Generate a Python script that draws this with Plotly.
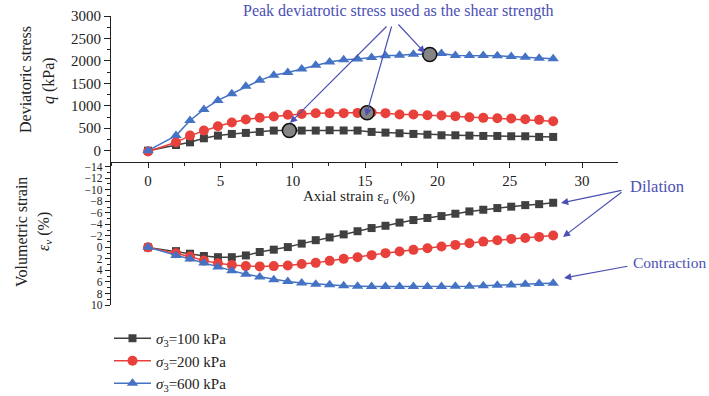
import plotly.graph_objects as go

# ---------------- data ----------------
strain = [0, 1.93, 2.90, 3.86, 4.83, 5.79, 6.76, 7.72, 8.69, 9.66, 10.62, 11.59, 12.55,
          13.52, 14.48, 15.45, 16.41, 17.38, 18.34, 19.31, 20.28, 21.24, 22.21, 23.17,
          24.14, 25.10, 26.07, 27.03, 28.00]

q_100 = [0, 127, 186, 276, 336, 373, 396, 418, 448, 448, 448, 448, 455, 450, 448, 418,
         403, 388, 373, 358, 343, 343, 336, 328, 328, 321, 321, 306, 306]
q_200 = [-20, 186, 336, 448, 544, 627, 694, 732, 761, 799, 817, 834, 836, 836, 842, 851,
         836, 806, 806, 791, 784, 769, 746, 731, 724, 717, 702, 687, 657]
q_600 = [0, 336, 672, 918, 1120, 1270, 1433, 1567, 1680, 1740, 1820, 1903, 1975, 2025,
         2040, 2075, 2112, 2127, 2150, 2150, 2165, 2120, 2120, 2120, 2112, 2098, 2082,
         2060, 2045]

ev_100 = [0, 0.65, 1.1, 1.5, 1.7, 1.7, 1.4, 0.8, 0.4, -0.05, -0.65, -1.25, -1.73, -2.25,
          -2.8, -3.35, -3.75, -4.3, -4.74, -5.1, -5.43, -5.84, -6.24, -6.53, -6.82, -7.06,
          -7.33, -7.5, -7.74]
ev_200 = [0, 1.0, 1.6, 2.3, 2.75, 3.05, 3.25, 3.3, 3.25, 3.15, 2.9, 2.69, 2.34, 1.99, 1.7,
          1.35, 1.0, 0.73, 0.43, 0.14, -0.14, -0.43, -0.72, -1.0, -1.24, -1.47, -1.64,
          -1.82, -2.05]
ev_600 = [0, 1.39, 2.0, 2.7, 3.4, 4.04, 4.68, 5.13, 5.6, 5.94, 6.17, 6.38, 6.5, 6.64, 6.76,
          6.81, 6.81, 6.81, 6.81, 6.81, 6.81, 6.76, 6.76, 6.64, 6.59, 6.53, 6.41, 6.29, 6.24]

peak_strain = [9.77, 15.14, 19.47]
peak_q = [448, 844, 2143]

series_names = ["<i>σ</i><sub>3</sub>=100 kPa", "<i>σ</i><sub>3</sub>=200 kPa",
                "<i>σ</i><sub>3</sub>=600 kPa"]

# ---------------- styling ----------------
FONT = "Liberation Serif"
colors = ["#404040", "#e8403a", "#4472c4"]
symbols = ["square", "circle", "triangle-up"]
msizes = [8, 10, 10]
ANN = "#4b50b4"

W, H = 709, 396
L, R, T, B = 111, 91, 16, 91
PW, PH = W - L - R, H - T - B
split = (305 - 161.5) / PH


def px(xp):
    return (xp - L) / PW


def py(yp):
    return (H - B - yp) / PH


fig = go.Figure()

qs = [q_100, q_200, q_600]
evs = [ev_100, ev_200, ev_600]
for i in range(3):
    fig.add_trace(go.Scatter(
        x=strain, y=qs[i], mode="lines+markers", name=series_names[i],
        line=dict(color=colors[i], width=1.5),
        marker=dict(symbol=symbols[i], size=msizes[i], color=colors[i]),
        xaxis="x", yaxis="y", legendgroup=str(i), cliponaxis=False))
for i in range(3):
    fig.add_trace(go.Scatter(
        x=strain, y=evs[i], mode="lines+markers", name=series_names[i],
        line=dict(color=colors[i], width=1.5),
        marker=dict(symbol=symbols[i], size=msizes[i], color=colors[i]),
        xaxis="x", yaxis="y2", legendgroup=str(i), showlegend=False, cliponaxis=False))

fig.add_trace(go.Scatter(
    x=peak_strain, y=peak_q, mode="markers", showlegend=False,
    marker=dict(symbol="circle", size=14, color="#858585",
                line=dict(color="#111111", width=1.5)),
    xaxis="x", yaxis="y", cliponaxis=False))

axis_common = dict(showgrid=False, zeroline=False, showline=True, linecolor="#222",
                   linewidth=1.2, ticks="outside", tickcolor="#222", tickwidth=1.2)

fig.update_layout(
    width=W, height=H,
    margin=dict(l=L, r=R, t=T, b=B, autoexpand=False),
    paper_bgcolor="white", plot_bgcolor="white",
    font=dict(family=FONT, size=15, color="#222"),
    xaxis=dict(**axis_common, range=[-2.56, 32.48], domain=[0, 1], anchor="y",
               dtick=5, tick0=0, ticklen=5,
               minor=dict(dtick=2.5, tick0=0, ticklen=3, ticks="outside",
                          tickcolor="#222", showgrid=False),
               tickfont=dict(size=15, family=FONT)),
    yaxis=dict(**axis_common, range=[-241, 3000], domain=[split, 1], anchor="x",
               dtick=500, tick0=0, ticklen=6,
               minor=dict(dtick=250, tick0=0, ticklen=3, ticks="outside",
                          tickcolor="#222", showgrid=False),
               tickfont=dict(size=15, family=FONT)),
    yaxis2=dict(**axis_common, range=[10, -14.9], domain=[0, split], anchor="x",
                dtick=2, tick0=0, ticklen=5,
                minor=dict(dtick=1, tick0=0, ticklen=3, ticks="outside",
                           tickcolor="#222", showgrid=False),
                tickfont=dict(size=11.5, family=FONT)),
    showlegend=True,
    legend=dict(x=px(109), y=py(322), xanchor="left", yanchor="top",
                bgcolor="rgba(0,0,0,0)", font=dict(size=15, family=FONT, color="#222"),
                itemwidth=37, tracegroupgap=0),
)

annotations = []
# axis titles
title_font = dict(size=16, family=FONT, color="#222")
for txt, xp, yp in [("Deviatoric stress", 26, 80), ("<i>q</i> (kPa)", 49, 81),
                    ("Volumetric strain", 21, 232),
                    ("<i>ε</i><sub><i>v</i></sub> (%)", 44, 232)]:
    annotations.append(dict(text=txt, x=px(xp), y=py(yp), xref="paper", yref="paper",
                            xanchor="center", yanchor="middle", showarrow=False,
                            textangle=-90, font=title_font))
annotations.append(dict(text="Axial strain ε<sub><i>a</i></sub> (%)", x=px(359), y=py(197),
                        xref="paper", yref="paper", xanchor="center", yanchor="middle",
                        showarrow=False, font=dict(size=15, family=FONT, color="#222")))

# labels
annotations.append(dict(text="Peak deviatrotic stress used as the shear strength",
                        x=px(398), y=py(11), xref="paper", yref="paper",
                        xanchor="center", yanchor="middle", showarrow=False,
                        font=dict(size=16, family=FONT, color=ANN)))
annotations.append(dict(text="Dilation", x=px(628), y=py(186), xref="paper", yref="paper",
                        xanchor="left", yanchor="middle", showarrow=False,
                        font=dict(size=16.5, family=FONT, color=ANN)))
annotations.append(dict(text="Contraction", x=px(631), y=py(262), xref="paper",
                        yref="paper", xanchor="left", yanchor="middle", showarrow=False,
                        font=dict(size=15.5, family=FONT, color=ANN)))

# arrows: (tail_x, tail_y, head_x, head_y) in pixels
arrows = [(388, 25, 290, 123), (392, 25, 366, 116), (397, 23, 425, 53),
          (623, 190, 561, 203), (623, 191, 563, 237), (629, 266, 564, 278)]
for tx, ty, hx, hy in arrows:
    annotations.append(dict(text="", x=px(hx), y=py(hy), xref="paper", yref="paper",
                            ax=tx - hx, ay=ty - hy, axref="pixel", ayref="pixel",
                            showarrow=True, arrowhead=2, arrowsize=1.2, arrowwidth=1.2,
                            arrowcolor=ANN, standoff=0))

fig.update_layout(annotations=annotations)

fig.write_html("out.html")
